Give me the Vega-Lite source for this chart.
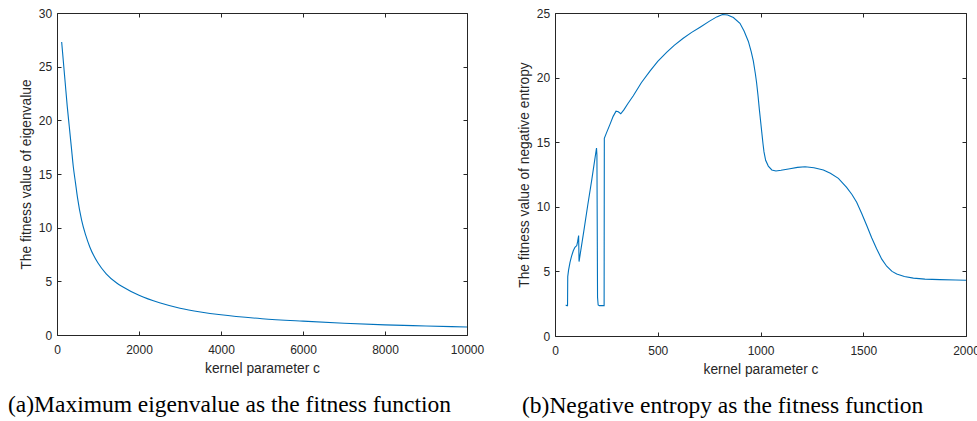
{
  "$schema": "https://vega.github.io/schema/vega-lite/v6.json",
  "padding": {"left": 8, "top": 7, "right": 0, "bottom": 0},
  "background": "white",
  "config": {
    "view": {"stroke": null},
    "axis": {
      "labelFont": "Liberation Sans", "titleFont": "Liberation Sans",
      "labelFontSize": 12, "titleFontSize": 13.8, "titleFontWeight": "normal",
      "labelColor": "#262626", "titleColor": "#262626",
      "domainColor": "#262626", "tickColor": "#262626",
      "grid": false, "tickSize": -4, "labelFlush": false, "labelOverlap": false, "format": "d"
    },
    "axisX": {"labelPadding": 13.5, "titlePadding": 6},
    "axisY": {"labelPadding": 9.3, "titlePadding": 4.5}
  },
  "spacing": 33,
  "hconcat": [
    {
      "width": 410, "height": 322,
      "title": {"text": "(a)Maximum eigenvalue as the fitness function", "orient": "bottom", "anchor": "start", "frame": "group", "dx": -49, "offset": 18, "font": "Liberation Serif", "fontSize": 23.5, "fontWeight": "normal", "color": "#000000"},
      "data": {"values": [
        {"c": 114, "v": 27.3}, {"c": 150, "v": 25.7}, {"c": 200, "v": 23.5}, {"c": 250, "v": 21.3},
        {"c": 300, "v": 19.4}, {"c": 350, "v": 17.5}, {"c": 400, "v": 15.6}, {"c": 450, "v": 14.2},
        {"c": 500, "v": 12.8}, {"c": 600, "v": 10.7}, {"c": 700, "v": 9.3}, {"c": 800, "v": 8.2},
        {"c": 1000, "v": 6.7}, {"c": 1200, "v": 5.7}, {"c": 1456, "v": 4.85}, {"c": 1600, "v": 4.5},
        {"c": 2000, "v": 3.7}, {"c": 2500, "v": 3.0}, {"c": 3000, "v": 2.5}, {"c": 3500, "v": 2.15},
        {"c": 4000, "v": 1.88}, {"c": 5000, "v": 1.52}, {"c": 6000, "v": 1.29}, {"c": 7000, "v": 1.1},
        {"c": 8000, "v": 0.94}, {"c": 9000, "v": 0.84}, {"c": 10000, "v": 0.75}
      ]},
      "layer": [
        {
          "mark": {"type": "line", "color": "#0072BD", "strokeWidth": 1.1, "interpolate": "monotone"},
          "encoding": {
            "x": {"field": "c", "type": "quantitative", "scale": {"domain": [0, 10000], "nice": false}, "axis": {"orient": "bottom", "values": [0, 2000, 4000, 6000, 8000, 10000], "title": "kernel parameter c"}},
            "y": {"field": "v", "type": "quantitative", "scale": {"domain": [0, 30], "nice": false}, "axis": {"orient": "left", "values": [0, 5, 10, 15, 20, 25, 30], "title": "The fitness value of eigenvalue"}}
          }
        },
        {
          "mark": {"type": "line", "opacity": 0},
          "encoding": {
            "x": {"field": "c", "type": "quantitative", "scale": {"domain": [0, 10000], "nice": false}, "axis": {"orient": "top", "values": [0, 2000, 4000, 6000, 8000, 10000], "labels": false, "title": null}},
            "y": {"field": "v", "type": "quantitative", "scale": {"domain": [0, 30], "nice": false}, "axis": {"orient": "right", "values": [0, 5, 10, 15, 20, 25, 30], "labels": false, "title": null}}
          }
        }
      ],
      "resolve": {"axis": {"x": "independent", "y": "independent"}}
    },
    {
      "width": 411, "height": 323,
      "title": {"text": "(b)Negative entropy as the fitness function", "orient": "bottom", "anchor": "start", "frame": "group", "dx": -33, "offset": 18, "font": "Liberation Serif", "fontSize": 23.5, "fontWeight": "normal", "color": "#000000"},
      "data": {"values": [
        {"c": 52, "v": 2.4}, {"c": 58, "v": 2.35}, {"c": 61, "v": 2.35}, {"c": 62, "v": 4.6},
        {"c": 66, "v": 5.1}, {"c": 73, "v": 5.7}, {"c": 80, "v": 6.15}, {"c": 89, "v": 6.6},
        {"c": 97, "v": 6.87}, {"c": 106, "v": 7.0}, {"c": 110, "v": 7.3}, {"c": 115, "v": 7.78},
        {"c": 117, "v": 5.76}, {"c": 140, "v": 8.1}, {"c": 160, "v": 10.2}, {"c": 180, "v": 12.2},
        {"c": 195, "v": 13.8}, {"c": 202, "v": 14.55}, {"c": 204, "v": 14.0}, {"c": 207, "v": 3.0},
        {"c": 210, "v": 2.4}, {"c": 216, "v": 2.35}, {"c": 239, "v": 2.35}, {"c": 240, "v": 15.3},
        {"c": 250, "v": 15.7}, {"c": 268, "v": 16.4}, {"c": 283, "v": 17.0}, {"c": 297, "v": 17.4},
        {"c": 308, "v": 17.35}, {"c": 320, "v": 17.2}, {"c": 335, "v": 17.5}, {"c": 355, "v": 18.0},
        {"c": 381, "v": 18.6}, {"c": 420, "v": 19.6}, {"c": 462, "v": 20.5}, {"c": 500, "v": 21.25},
        {"c": 543, "v": 21.95}, {"c": 580, "v": 22.5}, {"c": 624, "v": 23.05}, {"c": 665, "v": 23.5},
        {"c": 706, "v": 23.9}, {"c": 750, "v": 24.35}, {"c": 787, "v": 24.7}, {"c": 815, "v": 24.88},
        {"c": 840, "v": 24.85}, {"c": 868, "v": 24.65}, {"c": 900, "v": 24.2}, {"c": 920, "v": 23.6},
        {"c": 941, "v": 22.8}, {"c": 955, "v": 22.0}, {"c": 965, "v": 21.3}, {"c": 975, "v": 20.3},
        {"c": 981, "v": 19.6}, {"c": 988, "v": 18.6}, {"c": 994, "v": 17.6}, {"c": 1000, "v": 16.7},
        {"c": 1006, "v": 15.8}, {"c": 1012, "v": 14.9}, {"c": 1017, "v": 14.25}, {"c": 1025, "v": 13.6},
        {"c": 1038, "v": 13.15}, {"c": 1055, "v": 12.85}, {"c": 1075, "v": 12.77}, {"c": 1100, "v": 12.83},
        {"c": 1143, "v": 12.95}, {"c": 1180, "v": 13.05}, {"c": 1217, "v": 13.1}, {"c": 1260, "v": 13.02},
        {"c": 1306, "v": 12.85}, {"c": 1340, "v": 12.6}, {"c": 1379, "v": 12.2}, {"c": 1419, "v": 11.5},
        {"c": 1445, "v": 10.95}, {"c": 1468, "v": 10.35}, {"c": 1492, "v": 9.5}, {"c": 1517, "v": 8.55},
        {"c": 1541, "v": 7.6}, {"c": 1565, "v": 6.75}, {"c": 1590, "v": 5.95}, {"c": 1614, "v": 5.4},
        {"c": 1640, "v": 5.0}, {"c": 1663, "v": 4.8}, {"c": 1700, "v": 4.6}, {"c": 1744, "v": 4.48},
        {"c": 1800, "v": 4.4}, {"c": 1873, "v": 4.36}, {"c": 1950, "v": 4.33}, {"c": 2000, "v": 4.32}
      ]},
      "layer": [
        {
          "mark": {"type": "line", "color": "#0072BD", "strokeWidth": 1.1},
          "encoding": {
            "x": {"field": "c", "type": "quantitative", "scale": {"domain": [0, 2000], "nice": false}, "axis": {"orient": "bottom", "values": [0, 500, 1000, 1500, 2000], "title": "kernel parameter c"}},
            "y": {"field": "v", "type": "quantitative", "scale": {"domain": [0, 25], "nice": false}, "axis": {"orient": "left", "values": [0, 5, 10, 15, 20, 25], "title": "The fitness value of negative entropy"}}
          }
        },
        {
          "mark": {"type": "line", "opacity": 0},
          "encoding": {
            "x": {"field": "c", "type": "quantitative", "scale": {"domain": [0, 2000], "nice": false}, "axis": {"orient": "top", "values": [0, 500, 1000, 1500, 2000], "labels": false, "title": null}},
            "y": {"field": "v", "type": "quantitative", "scale": {"domain": [0, 25], "nice": false}, "axis": {"orient": "right", "values": [0, 5, 10, 15, 20, 25], "labels": false, "title": null}}
          }
        }
      ],
      "resolve": {"axis": {"x": "independent", "y": "independent"}}
    }
  ]
}
